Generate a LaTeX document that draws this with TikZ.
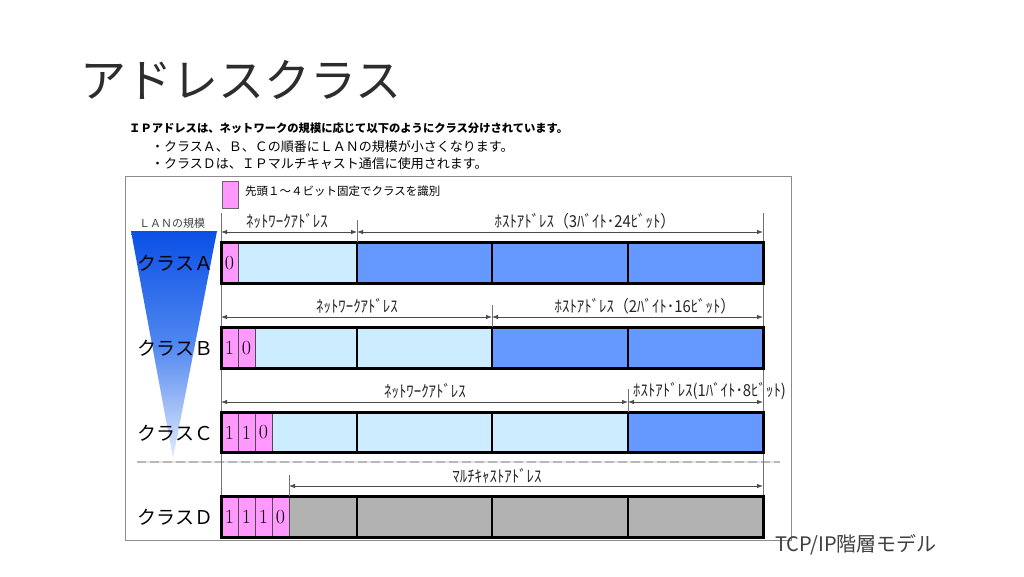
\documentclass[tikz,border=0pt]{standalone}
\usepackage{fontspec}
\usepackage{graphicx}
\newfontfamily\jp{Noto Sans CJK JP}
\usetikzlibrary{arrows.meta}
\definecolor{pinkc}{RGB}{255,153,255}
\definecolor{lblue}{RGB}{204,236,255}
\definecolor{mblue}{RGB}{102,153,255}
\definecolor{grayc}{RGB}{178,178,178}
\definecolor{framec}{RGB}{140,140,140}
\definecolor{titlec}{RGB}{45,45,45}
\definecolor{tritop}{RGB}{10,80,230}
\definecolor{trimid}{RGB}{80,135,240}
\definecolor{tribot}{RGB}{228,236,252}
\newcommand\fsz[1]{\fontsize{#1}{#1}\selectfont}
\newcommand\narrow[1]{\scalebox{0.9}[1]{#1}}
\begin{document}
\begin{tikzpicture}[x=1pt,y=-1pt,
  dimline/.style={draw=black!70, line width=0.8pt, {Latex[length=6pt,width=4.5pt]}-{Latex[length=6pt,width=4.5pt]}},
  extline/.style={draw=black!55, line width=0.8pt},
  dimlbl/.style={font=\jp\fsz{16.5}, inner sep=0pt, text=black!85},
  cls/.style={font=\jp\fsz{19}, inner sep=0pt},
  bit/.style={font=\fsz{20}, inner sep=0pt},
  outer/.style={draw=black, line width=3pt},
  bytediv/.style={draw=black, line width=2pt},
  bitdiv/.style={draw=black!70, line width=0.7pt},
  txt/.style={anchor=west, inner sep=0pt}]
\useasboundingbox (0,0) rectangle (1024,576);
\fill[white] (0,0) rectangle (1024,576);

% title and intro
\node[txt, font=\jp\fsz{46}, text=titlec] (title) at (80,80) {アドレスクラス};
\node[txt, font=\jp\bfseries\fsz{11.3}] (l1) at (129,128) {ＩＰアドレスは、ネットワークの規模に応じて以下のようにクラス分けされています。};
\node[txt, font=\jp\fsz{13}] (l2) at (151,147) {・クラスＡ、Ｂ、Ｃの順番にＬＡＮの規模が小さくなります。};
\node[txt, font=\jp\fsz{13}] (l3) at (151,164) {・クラスＤは、ＩＰマルチキャスト通信に使用されます。};

% frame
\draw[framec, line width=1pt] (125,176) rectangle (791,540);

% legend
\draw[fill=pinkc, draw=black!60, line width=0.8pt] (222,181) rectangle (238,208);
\node[txt, font=\jp\fsz{11.5}] (legend) at (245,191) {先頭１～４ビット固定でクラスを識別};

% LAN scale triangle
\node[font=\jp\fsz{11}, inner sep=0pt, text=black!75] (lan) at (172,223) {ＬＡＮの規模};
\shade[top color=tritop, bottom color=tribot, middle color=trimid] (131,231) -- (217,231) -- (173,458) -- cycle;

% separator
\draw[black!10, line width=2pt] (137,462) -- (780,462);
\draw[black!28, line width=2pt, dash pattern=on 9pt off 4pt] (137,462) -- (780,462);

% extension lines
\coordinate (eL1) at (221,213); \coordinate (eL2) at (221,496);
\coordinate (eR1) at (763,213); \coordinate (eR2) at (763,496);
\draw[extline] (eL1) -- (eL2);
\draw[extline] (eR1) -- (eR2);

% ---- Class A ----
\fill[pinkc] (221,242) rectangle (238,283);
\fill[lblue] (238,242) rectangle (357,283);
\fill[mblue] (357,242) rectangle (763,283);
\draw[bitdiv] (238,242) -- (238,283);
\draw[bytediv] (357,242) -- (357,283) (492,242) -- (492,283) (628,242) -- (628,283);
\draw[outer] (221,242) rectangle (763,283);
\node[bit] (a0) at (229.5,263) {0};
\node[cls] (clsA) at (175.5,263) {クラスＡ};

% ---- Class B ----
\fill[pinkc] (221,327) rectangle (255,368);
\fill[lblue] (255,327) rectangle (492,368);
\fill[mblue] (492,327) rectangle (763,368);
\draw[bitdiv] (238,327) -- (238,368) (255,327) -- (255,368);
\draw[bytediv] (357,327) -- (357,368) (492,327) -- (492,368) (628,327) -- (628,368);
\draw[outer] (221,327) rectangle (763,368);
\node[bit] (b0) at (229.5,348) {1};
\node[bit] (b1) at (246.5,348) {0};
\node[cls] (clsB) at (175.5,348) {クラスＢ};

% ---- Class C ----
\fill[pinkc] (221,412) rectangle (272,452);
\fill[lblue] (272,412) rectangle (628,452);
\fill[mblue] (628,412) rectangle (763,452);
\draw[bitdiv] (238,412) -- (238,452) (255,412) -- (255,452) (272,412) -- (272,452);
\draw[bytediv] (357,412) -- (357,452) (492,412) -- (492,452) (628,412) -- (628,452);
\draw[outer] (221,412) rectangle (763,452);
\node[bit] (c0) at (229.5,432.5) {1};
\node[bit] (c1) at (246.5,432.5) {1};
\node[bit] (c2) at (263.5,432.5) {0};
\node[cls] (clsC) at (175.5,433) {クラスＣ};

% ---- Class D ----
\fill[pinkc] (221,496) rectangle (289,537);
\fill[grayc] (289,496) rectangle (763,537);
\draw[bitdiv] (238,496) -- (238,537) (255,496) -- (255,537) (272,496) -- (272,537) (289,496) -- (289,537);
\draw[bytediv] (357,496) -- (357,537) (492,496) -- (492,537) (628,496) -- (628,537);
\draw[outer] (221,496) rectangle (763,537);
\node[bit] (d0) at (229.5,517) {1};
\node[bit] (d1) at (246.5,517) {1};
\node[bit] (d2) at (263.5,517) {1};
\node[bit] (d3) at (280.5,517) {0};
\node[cls] (clsD) at (175.5,517) {クラスＤ};

% ---- dimension lines ----
% A
\coordinate (A1) at (221,232); \coordinate (A2) at (357,232); \coordinate (A3) at (763,232);
\coordinate (At) at (357,220);
\draw[extline] (At) -- (357,242);
\draw[dimline] (A1) -- (A2);
\draw[dimline] (A2) -- (A3);
\node[dimlbl] (Anet) at (287,221) {\narrow{ﾈｯﾄﾜｰｸｱﾄﾞﾚｽ}};
\node[dimlbl] (Ahost) at (585,221) {\narrow{ﾎｽﾄｱﾄﾞﾚｽ（3ﾊﾞｲﾄ･24ﾋﾞｯﾄ）}};
% B
\coordinate (B1) at (221,317); \coordinate (B2) at (492,317); \coordinate (B3) at (763,317);
\coordinate (Bt) at (492,305);
\draw[extline] (Bt) -- (492,327);
\draw[dimline] (B1) -- (B2);
\draw[dimline] (B2) -- (B3);
\node[dimlbl] (Bnet) at (357,306) {\narrow{ﾈｯﾄﾜｰｸｱﾄﾞﾚｽ}};
\node[dimlbl] (Bhost) at (645,306) {\narrow{ﾎｽﾄｱﾄﾞﾚｽ（2ﾊﾞｲﾄ･16ﾋﾞｯﾄ）}};
% C
\coordinate (C1) at (221,402); \coordinate (C2) at (628,402); \coordinate (C3) at (763,402);
\coordinate (Ct) at (628,389);
\draw[extline] (Ct) -- (628,412);
\draw[dimline] (C1) -- (C2);
\draw[dimline] (C2) -- (C3);
\node[dimlbl] (Cnet) at (425,391) {\narrow{ﾈｯﾄﾜｰｸｱﾄﾞﾚｽ}};
\node[dimlbl, anchor=west] (Chost) at (633,391) {\narrow{ﾎｽﾄｱﾄﾞﾚｽ(1ﾊﾞｲﾄ･8ﾋﾞｯﾄ)}};
% D
\coordinate (D1) at (289,486); \coordinate (D2) at (763,486);
\coordinate (Dt) at (289,475);
\draw[extline] (Dt) -- (289,496);
\draw[dimline] (D1) -- (D2);
\node[dimlbl] (Dmc) at (497,476) {\narrow{ﾏﾙﾁｷｬｽﾄｱﾄﾞﾚｽ}};

% footer
\node[txt, font=\jp\fsz{20}, text=black!75] (footer) at (775,545) {TCP/IP階層モデル};
\end{tikzpicture}
\end{document}
